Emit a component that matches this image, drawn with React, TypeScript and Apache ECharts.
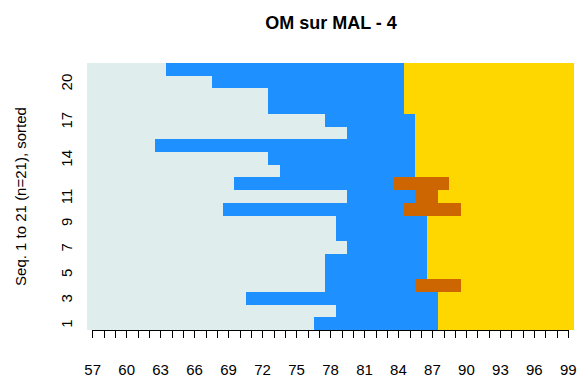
import React, { useEffect, useRef } from "react";
import * as echarts from "echarts";

const rowNames = ["1","2","3","4","5","6","7","8","9","10","11","12","13","14","15","16","17","18","19","20","21"];
const yLabelsShown = ["1","3","5","7","9","11","14","17","20"];
const xTickLabels = [57,60,63,66,69,72,75,78,81,84,87,90,93,96,99];
const firstPos = 57;
const lastPos = 99;

// per sequence (row 1 at bottom): first column of each state
const firstBlue   = [77, 79, 71, 78, 78, 78, 80, 79, 79, 69, 80, 70, 74, 73, 63, 80, 78, 73, 73, 68, 64];
const firstBrown: (number | null)[] = [null, null, null, 86, null, null, null, null, null, 85, 86, 84, null, null, null, null, null, null, null, null, null];
const firstYellow = [88, 88, 88, 90, 87, 87, 87, 87, 87, 90, 88, 89, 86, 86, 86, 86, 86, 85, 85, 85, 85];

const stateColors = ["#DFEDED", "#1E90FF", "#CD6600", "#FFD700"];
const FONT = "Liberation Sans, Arial, sans-serif";

function buildRuns() {
  const runs: number[][] = [];
  rowNames.forEach((_, i) => {
    const fb = firstBlue[i];
    const fbr = firstBrown[i];
    const fy = firstYellow[i];
    runs.push([i, firstPos, fb - 1, 0]);
    runs.push([i, fb, (fbr ?? fy) - 1, 1]);
    if (fbr !== null) runs.push([i, fbr, fy - 1, 2]);
    runs.push([i, fy, lastPos, 3]);
  });
  return runs;
}

export default function App() {
  const ref = useRef<HTMLDivElement>(null);
  useEffect(() => {
    if (!ref.current) return;
    const chart = echarts.init(ref.current, undefined, { renderer: "svg" });
    const cell = 487 / 43;
    chart.setOption({
      animation: false,
      backgroundColor: "#fff",
      title: {
        text: "OM sur MAL - 4",
        left: 326,
        top: 9,
        textAlign: "center",
        textStyle: { fontFamily: FONT, fontWeight: "bold", fontSize: 18, color: "#000" },
      },
      grid: [
        { left: 87, top: 63, width: 487, height: 267 },
        { left: 87 + cell / 2, top: 63, width: cell * 42, height: 267 },
      ],
      xAxis: [
        { type: "value", gridIndex: 0, min: firstPos - 0.5, max: lastPos + 0.5, show: false },
        {
          type: "value", gridIndex: 1, min: firstPos, max: lastPos, interval: 1, offset: 11,
          axisLine: { show: true, lineStyle: { color: "#000", width: 1 } },
          axisTick: { show: true, length: 8, lineStyle: { color: "#000", width: 1 } },
          splitLine: { show: false },
          axisLabel: {
            margin: 21, fontSize: 15, color: "#000", fontFamily: FONT,
            formatter: (v: number) => (xTickLabels.includes(v) ? String(v) : ""),
          },
        },
      ],
      yAxis: [
        {
          type: "category", gridIndex: 0, data: rowNames,
          axisLine: { show: false }, axisTick: { show: false }, splitLine: { show: false },
          axisLabel: {
            rotate: 90, interval: 0, margin: 13, fontSize: 15, color: "#000", fontFamily: FONT,
            formatter: (v: string) => (yLabelsShown.includes(v) ? v : ""),
          },
          name: "Seq. 1 to 21 (n=21), sorted",
          nameLocation: "middle",
          nameGap: 59,
          nameTextStyle: { fontSize: 15, color: "#000", fontFamily: FONT },
        },
        { type: "value", gridIndex: 1, show: false },
      ],
      series: [
        {
          type: "custom",
          xAxisIndex: 0,
          yAxisIndex: 0,
          encode: { x: [1, 2], y: 0 },
          data: buildRuns(),
          renderItem: (params: any, api: any) => {
            const row = api.value(0);
            const s = api.value(1);
            const e = api.value(2);
            const st = api.value(3);
            const p0 = api.coord([s - 0.5, row]);
            const p1 = api.coord([e + 0.5, row]);
            const h = api.size([0, 1])[1];
            const x0 = Math.round(p0[0]);
            const x1 = Math.round(p1[0]);
            const y0 = Math.round(p0[1] - h / 2);
            const y1 = Math.round(p0[1] + h / 2);
            const c = stateColors[st];
            return {
              type: "rect",
              shape: { x: x0, y: y0, width: x1 - x0, height: y1 - y0 },
              style: { fill: c },
            };
          },
        },
      ],
    });
    return () => chart.dispose();
  }, []);
  return <div ref={ref} style={{ position: "fixed", left: 0, top: 0, width: 584, height: 385 }} />;
}
